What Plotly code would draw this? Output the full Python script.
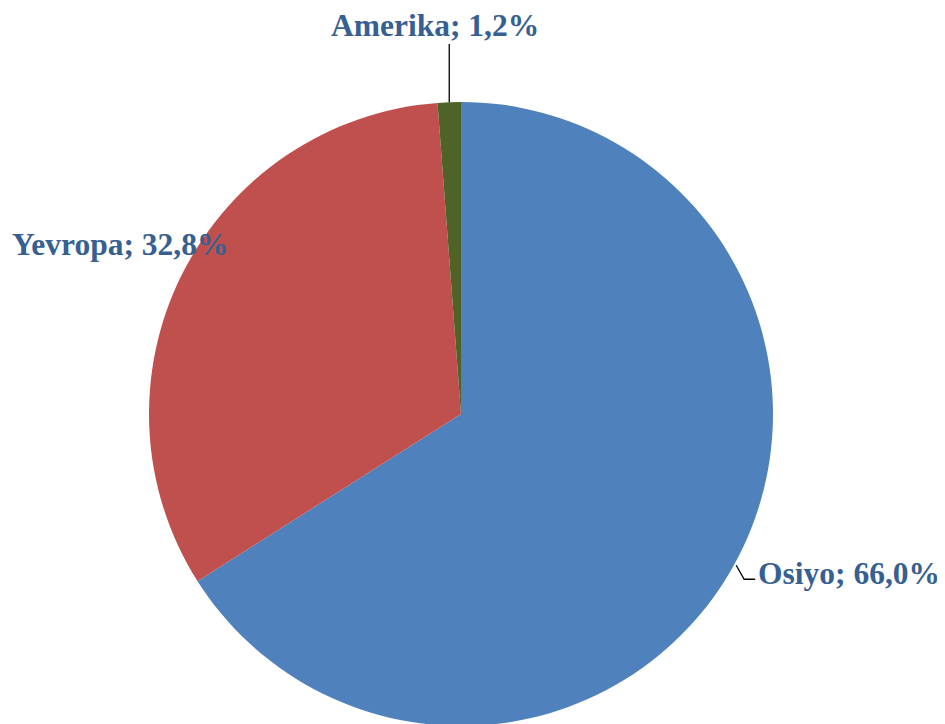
import math
import plotly.graph_objects as go

labels = ["Osiyo", "Yevropa", "Amerika"]
values = [66.0, 32.8, 1.2]
value_text = ["66,0%", "32,8%", "1,2%"]
colors = ["#4F81BD", "#C0504D", "#4F6228"]

W, H = 945, 724
OFF = 8  # page body margin
CX, CY, R = 461, 414, 312  # target screen pixel centre / radius of pie

fig = go.Figure(go.Pie(
    labels=labels, values=values, sort=False, direction="clockwise",
    rotation=0, textinfo="none", hoverinfo="label+percent",
    marker=dict(colors=colors, line=dict(width=0)),
    domain=dict(x=[(CX - OFF - R) / W, (CX - OFF + R) / W],
                y=[max(0, (H - (CY - OFF) - R) / H), (H - (CY - OFF) + R) / H]),
    showlegend=False,
))

def px2paper(x, y):
    return (x - OFF) / W, 1 - (y - OFF) / H

total = sum(values)
mids = []
acc = 0
for v in values:
    mids.append((acc + v / 2) / total * 360)
    acc += v

def edge(angle, r=R):
    a = math.radians(angle)
    return CX + r * math.sin(a), CY - r * math.cos(a)

font = dict(family="Liberation Serif, Times New Roman, serif", size=31.5, color="#376092")
annotations = []
shapes = []

# Osiyo: bent leader line, label to the right
ex, ey = edge(mids[0], R + 2)
p1 = (ex + 8, ey + 14)
p2 = (p1[0] + 11, p1[1])
x0, y0 = px2paper(ex, ey); x1, y1 = px2paper(*p1); x2, y2 = px2paper(*p2)
shapes.append(dict(type="path", xref="paper", yref="paper",
                   path=f"M {x0} {y0} L {x1} {y1} L {x2} {y2}",
                   line=dict(color="black", width=1.3)))
lx, ly = px2paper(p2[0] + 1, p2[1] - 6)
annotations.append(dict(x=lx, y=ly, xref="paper", yref="paper", xanchor="left", yanchor="middle",
                        text=f"<b>{labels[0]}; {value_text[0]}</b>", showarrow=False, font=font))

# Yevropa: label overlapping left edge
ex, ey = edge(mids[1], R)
lx, ly = px2paper(ex + 48, ey - 30)
annotations.append(dict(x=lx, y=ly, xref="paper", yref="paper", xanchor="right", yanchor="middle",
                        text=f"<b>{labels[1]}; {value_text[1]}</b>", showarrow=False, font=font))

# Amerika: vertical leader line, label above
ex, ey = edge(mids[2], R)
top = (ex, 44)
x0, y0 = px2paper(ex, ey); x1, y1 = px2paper(*top)
shapes.append(dict(type="line", xref="paper", yref="paper", x0=x0, y0=y0, x1=x1, y1=y1,
                   line=dict(color="black", width=1.3)))
lx, ly = px2paper(ex - 14, 25)
annotations.append(dict(x=lx, y=ly, xref="paper", yref="paper", xanchor="center", yanchor="middle",
                        text=f"<b>{labels[2]}; {value_text[2]}</b>", showarrow=False, font=font))

fig.update_layout(width=W, height=H, margin=dict(l=0, r=0, t=0, b=0),
                  paper_bgcolor="white", plot_bgcolor="white",
                  annotations=annotations, shapes=shapes)
fig.write_html("out.html")
